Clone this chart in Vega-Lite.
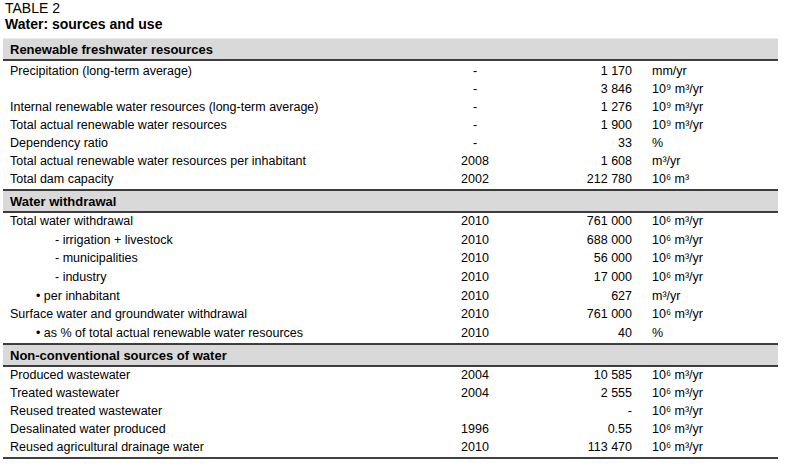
{
  "$schema": "https://vega.github.io/schema/vega-lite/v6.json",
  "width": 786,
  "height": 469,
  "autosize": {"type": "none"},
  "padding": 0,
  "background": "white",
  "view": {"stroke": null},
  "config": {"text": {"font": "Liberation Sans", "fontSize": 12.5, "color": "#000000", "baseline": "middle"}},
  "datasets": {
    "rows": [
      {"row": 0, "kind": "title", "label": "TABLE 2", "indent": 0, "year": "", "value": "", "unit": ""},
      {"row": 1, "kind": "subtitle", "label": "Water: sources and use", "indent": 0, "year": "", "value": "", "unit": ""},
      {"row": 2, "kind": "header", "label": "Renewable freshwater resources", "indent": 0, "year": "", "value": "", "unit": ""},
      {"row": 3, "kind": "item", "label": "Precipitation (long-term average)", "indent": 0, "year": "-", "value": "1 170", "unit": "mm/yr"},
      {"row": 4, "kind": "item", "label": "", "indent": 0, "year": "-", "value": "3 846", "unit": "10⁹ m³/yr"},
      {"row": 5, "kind": "item", "label": "Internal renewable water resources (long-term average)", "indent": 0, "year": "-", "value": "1 276", "unit": "10⁹ m³/yr"},
      {"row": 6, "kind": "item", "label": "Total actual renewable water resources", "indent": 0, "year": "-", "value": "1 900", "unit": "10⁹ m³/yr"},
      {"row": 7, "kind": "item", "label": "Dependency ratio", "indent": 0, "year": "-", "value": "33", "unit": "%"},
      {"row": 8, "kind": "item", "label": "Total actual renewable water resources per inhabitant", "indent": 0, "year": "2008", "value": "1 608", "unit": "m³/yr"},
      {"row": 9, "kind": "item", "label": "Total dam capacity", "indent": 0, "year": "2002", "value": "212 780", "unit": "10⁶ m³"},
      {"row": 10, "kind": "header", "label": "Water withdrawal", "indent": 0, "year": "", "value": "", "unit": ""},
      {"row": 11, "kind": "item", "label": "Total water withdrawal", "indent": 0, "year": "2010", "value": "761 000", "unit": "10⁶ m³/yr"},
      {"row": 12, "kind": "item", "label": "- irrigation + livestock", "indent": 2, "year": "2010", "value": "688 000", "unit": "10⁶ m³/yr"},
      {"row": 13, "kind": "item", "label": "- municipalities", "indent": 2, "year": "2010", "value": "56 000", "unit": "10⁶ m³/yr"},
      {"row": 14, "kind": "item", "label": "- industry", "indent": 2, "year": "2010", "value": "17 000", "unit": "10⁶ m³/yr"},
      {"row": 15, "kind": "item", "label": "• per inhabitant", "indent": 1, "year": "2010", "value": "627", "unit": "m³/yr"},
      {"row": 16, "kind": "item", "label": "Surface water and groundwater withdrawal", "indent": 0, "year": "2010", "value": "761 000", "unit": "10⁶ m³/yr"},
      {"row": 17, "kind": "item", "label": "• as % of total actual renewable water resources", "indent": 1, "year": "2010", "value": "40", "unit": "%"},
      {"row": 18, "kind": "header", "label": "Non-conventional sources of water", "indent": 0, "year": "", "value": "", "unit": ""},
      {"row": 19, "kind": "item", "label": "Produced wastewater", "indent": 0, "year": "2004", "value": "10 585", "unit": "10⁶ m³/yr"},
      {"row": 20, "kind": "item", "label": "Treated wastewater", "indent": 0, "year": "2004", "value": "2 555", "unit": "10⁶ m³/yr"},
      {"row": 21, "kind": "item", "label": "Reused treated wastewater", "indent": 0, "year": "", "value": "-", "unit": "10⁶ m³/yr"},
      {"row": 22, "kind": "item", "label": "Desalinated water produced", "indent": 0, "year": "1996", "value": "0.55", "unit": "10⁶ m³/yr"},
      {"row": 23, "kind": "item", "label": "Reused agricultural drainage water", "indent": 0, "year": "2010", "value": "113 470", "unit": "10⁶ m³/yr"}
    ]
  },
  "data": {"name": "rows"},
  "layer": [
    {
      "transform": [{"filter": "datum.kind === 'header'"}],
      "mark": {"type": "rule", "color": "#d9d9d9", "strokeWidth": 21, "yOffset": -1},
      "encoding": {
        "x": {"datum": -2, "type": "quantitative", "scale": {"domain": [-2, -1, 0, 1, 2, 3, 4, 5, 6], "range": [3, 5, 10, 36, 55, 475, 632, 652, 778], "nice": false, "zero": false}, "axis": null},
        "x2": {"datum": 6},
        "y": {"field": "row", "type": "quantitative", "scale": {"domain": [0, 1, 2, 3, 9, 10, 11, 17, 18, 19, 23], "range": [9, 25, 50, 71, 179, 202, 221, 333, 356, 375, 447], "nice": false, "zero": false}, "axis": null}
      }
    },
    {
      "transform": [{"filter": "datum.kind === 'header'"}],
      "mark": {"type": "rule", "color": "#000000", "strokeWidth": 1.6, "yOffset": 10},
      "encoding": {
        "x": {"datum": -2, "type": "quantitative"},
        "x2": {"datum": 6},
        "y": {"field": "row", "type": "quantitative"}
      }
    },
    {
      "transform": [{"filter": "datum.row === 9 || datum.row === 17 || datum.row === 23"}],
      "mark": {"type": "rule", "color": "#000000", "strokeWidth": 1.6, "yOffset": 11},
      "encoding": {
        "x": {"datum": -2, "type": "quantitative"},
        "x2": {"datum": 6},
        "y": {"field": "row", "type": "quantitative"}
      }
    },
    {
      "transform": [{"filter": "datum.kind === 'title'"}],
      "mark": {"type": "text", "align": "left", "fontSize": 14},
      "encoding": {
        "x": {"datum": -1, "type": "quantitative"},
        "y": {"field": "row", "type": "quantitative"},
        "text": {"field": "label"}
      }
    },
    {
      "transform": [{"filter": "datum.kind === 'subtitle'"}],
      "mark": {"type": "text", "align": "left", "fontSize": 14, "fontWeight": "bold"},
      "encoding": {
        "x": {"datum": -1, "type": "quantitative"},
        "y": {"field": "row", "type": "quantitative"},
        "text": {"field": "label"}
      }
    },
    {
      "transform": [{"filter": "datum.kind === 'header'"}],
      "mark": {"type": "text", "align": "left", "fontSize": 13, "fontWeight": "bold"},
      "encoding": {
        "x": {"datum": 0, "type": "quantitative"},
        "y": {"field": "row", "type": "quantitative"},
        "text": {"field": "label"}
      }
    },
    {
      "transform": [{"filter": "datum.kind === 'item'"}],
      "mark": {"type": "text", "align": "left"},
      "encoding": {
        "x": {"field": "indent", "type": "quantitative"},
        "y": {"field": "row", "type": "quantitative"},
        "text": {"field": "label"}
      }
    },
    {
      "transform": [{"filter": "datum.kind === 'item'"}],
      "mark": {"type": "text", "align": "center"},
      "encoding": {
        "x": {"datum": 3, "type": "quantitative"},
        "y": {"field": "row", "type": "quantitative"},
        "text": {"field": "year"}
      }
    },
    {
      "transform": [{"filter": "datum.kind === 'item'"}],
      "mark": {"type": "text", "align": "right"},
      "encoding": {
        "x": {"datum": 4, "type": "quantitative"},
        "y": {"field": "row", "type": "quantitative"},
        "text": {"field": "value"}
      }
    },
    {
      "transform": [{"filter": "datum.kind === 'item'"}],
      "mark": {"type": "text", "align": "left"},
      "encoding": {
        "x": {"datum": 5, "type": "quantitative"},
        "y": {"field": "row", "type": "quantitative"},
        "text": {"field": "unit"}
      }
    }
  ]
}
